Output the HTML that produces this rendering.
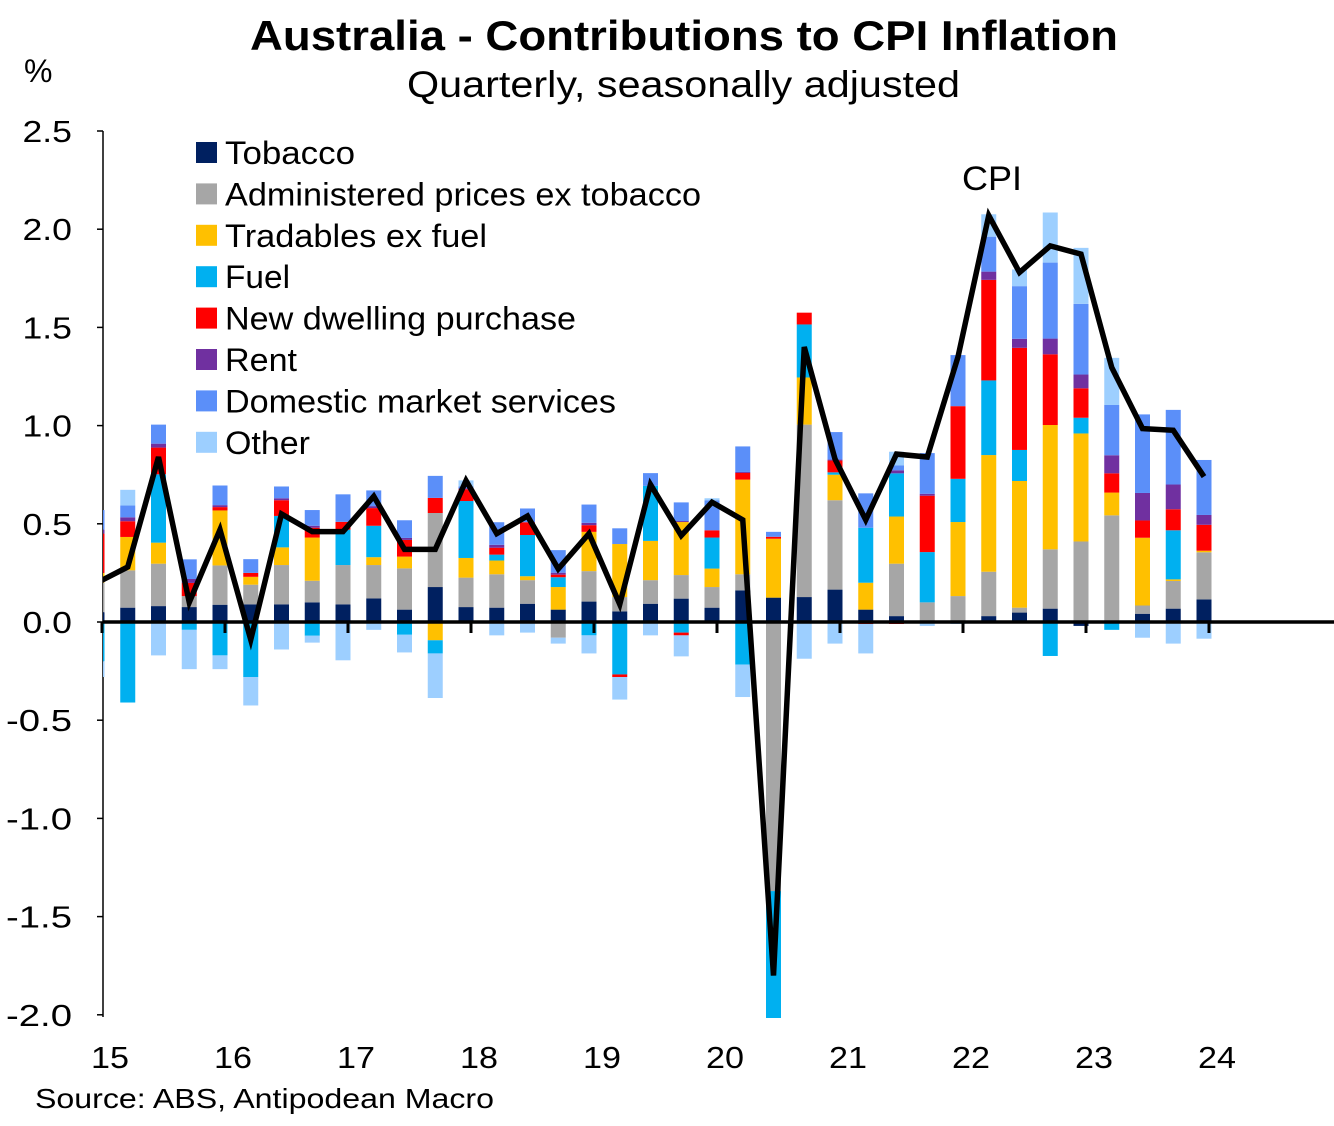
<!DOCTYPE html>
<html><head><meta charset="utf-8"><style>
body{margin:0;background:#fff;font-family:"Liberation Sans",Arial,sans-serif}
svg text{font-family:"Liberation Sans",Arial,sans-serif}
</style></head><body>
<svg id="chart" width="1334" height="1121" viewBox="0 0 1334 1121" xmlns="http://www.w3.org/2000/svg">
<text x="250" y="50" font-size="42" font-weight="bold" textLength="868" lengthAdjust="spacingAndGlyphs">Australia  - Contributions to CPI Inflation</text>
<text x="407" y="97" font-size="37" textLength="553" lengthAdjust="spacingAndGlyphs">Quarterly, seasonally adjusted</text>
<text x="24" y="82" font-size="32">%</text>
<defs><clipPath id="plotclip"><rect x="103" y="100" width="1231" height="918"/></clipPath></defs>
<g id="yaxis"></g>
<g id="bars" clip-path="url(#plotclip)"></g>
<g id="xaxis"></g>
<g id="line" clip-path="url(#plotclip)"></g>
<text x="962" y="190" font-size="34" textLength="60" lengthAdjust="spacingAndGlyphs">CPI</text>
<g id="legend"></g>
<text x="35" y="1108" font-size="28" textLength="459" lengthAdjust="spacingAndGlyphs">Source: ABS, Antipodean Macro</text>
</svg>
<script>
const seriesNames=["Tobacco","Administered prices ex tobacco","Tradables ex fuel","Fuel","New dwelling purchase","Rent","Domestic market services","Other"];
const colors=["#002060","#A6A6A6","#FFC000","#00B0F0","#FF0000","#7030A0","#5B8FF9","#9DCFFF"];
const tobacco=[0.05,0.073,0.081,0.076,0.088,0.09,0.09,0.1,0.09,0.12,0.063,0.178,0.076,0.073,0.093,0.063,0.104,0.054,0.093,0.119,0.073,0.161,0.124,0.127,0.165,0.063,0.03,0,0,0.03,0.048,0.068,-0.02,0,0.042,0.068,0.115];
const administered=[0.15,0.19,0.216,0.056,0.2,0.1,0.2,0.11,0.2,0.17,0.21,0.377,0.15,0.17,0.12,-0.08,0.155,0.073,0.12,0.12,0.105,0.082,-1.37,0.878,0.455,0,0.267,0.1,0.132,0.226,0.025,0.302,0.41,0.543,0.042,0.141,0.24];
const tradables=[0.05,0.17,0.107,0,0.28,0.04,0.09,0.22,0,0.04,0.06,-0.093,0.1,0.07,0.02,0.115,0.2,0.27,0.2,0.27,0.094,0.482,0.3,0.24,0.13,0.137,0.24,0,0.377,0.594,0.645,0.633,0.55,0.116,0.345,0.008,0.008];
const fuel=[-0.2,-0.41,0.348,-0.04,-0.17,-0.28,0.16,-0.07,0.18,0.16,-0.065,-0.067,0.29,0.03,0.21,0.05,-0.068,-0.267,0.28,-0.054,0.158,-0.217,-0.65,0.27,0.012,0.28,0.22,0.256,0.22,0.38,0.158,-0.173,0.08,-0.04,0,0.25,0];
const dwelling=[0.2,0.08,0.136,0.067,0.017,0.02,0.08,0.05,0.04,0.09,0.085,0.077,0.06,0.035,0.065,0.013,0.034,-0.013,0,-0.014,0.037,0.034,0.01,0.06,0.06,-0.01,-0.01,0.287,0.37,0.512,0.52,0.36,0.15,0.098,0.088,0.107,0.132];
const rent=[0.02,0.02,0.02,0.02,0.01,0,0.01,0.01,0,0.01,0.01,0,0.005,0.015,0,0.01,0.012,0,0,0.005,0,0.005,0,0,0.005,0,0.015,0.01,0,0.042,0.046,0.08,0.07,0.092,0.14,0.126,0.05];
const services=[0.1,0.06,0.097,0.1,0.1,0.07,0.06,0.08,0.14,0.08,0.09,0.112,0.01,0.115,0.07,0.115,0.093,0.08,0.065,0.095,0.153,0.13,0.025,0,0.14,0.175,0.025,0.207,0.26,0.178,0.268,0.387,0.36,0.256,0.4,0.38,0.28];
const other=[-0.08,0.08,-0.17,-0.2,-0.07,-0.145,-0.14,-0.035,-0.195,-0.04,-0.09,-0.227,0.03,-0.068,-0.054,-0.03,-0.092,-0.115,-0.068,-0.107,0.01,-0.165,0,-0.187,-0.11,-0.15,0.07,-0.02,-0.01,0.114,0.085,0.255,0.285,0.24,-0.08,-0.11,-0.085];
const cpi=[0.2,0.28,0.84,0.1,0.47,-0.09,0.55,0.46,0.46,0.64,0.37,0.37,0.72,0.45,0.54,0.27,0.45,0.09,0.70,0.44,0.61,0.52,-1.80,1.40,0.83,0.52,0.855,0.84,1.35,2.07,1.78,1.915,1.873,1.296,0.985,0.976,0.74];
const yTicks=["2.5","2.0","1.5","1.0","0.5","0.0","-0.5","-1.0","-1.5","-2.0"];
const xLabels=["15","16","17","18","19","20","21","22","23","24"];
const legendWidths=[130,476,262,65,351,72,391,85];

const NS="http://www.w3.org/2000/svg";
const y=v=>622-v*196.4;
const x=i=>97+30.75*i;
const mk=(tag,attrs,parent)=>{const e=document.createElementNS(NS,tag);for(const k in attrs)e.setAttribute(k,attrs[k]);parent.appendChild(e);return e;};
const series=[tobacco,administered,tradables,fuel,dwelling,rent,services,other];
const yg=document.getElementById('yaxis');
let ax=mk('line',{x1:103,y1:131,x2:103,y2:1017,stroke:'#000','stroke-width':1.5},yg);


yTicks.forEach(t=>{const v=parseFloat(t);
 const tk=mk('line',{x1:97,y1:y(v),x2:103,y2:y(v),stroke:'#000','stroke-width':1.5},yg);
 
 
 const tx=mk('text',{x:72,y:y(v)+11,'text-anchor':'end','font-size':31,textLength:t.length*16.5,lengthAdjust:'spacingAndGlyphs'},yg);tx.textContent=t;
 
 
});
const bg=document.getElementById('bars');
cpi.forEach((c,i)=>{let pos=0,neg=0;
 series.forEach((s,k)=>{const v=s[i];if(!v)return;let y0,y1;
  if(v>0){y0=pos;y1=pos+v;pos=y1;}else{y0=neg;y1=neg+v;neg=y1;}
  const r=mk('rect',{x:x(i)-7.5,y:Math.min(y(y0),y(y1)),width:15,height:Math.abs(y(y1)-y(y0)),fill:colors[k]},bg);
  
  
 });
});
const xg=document.getElementById('xaxis');
const zl=mk('line',{x1:103,y1:622,x2:1334,y2:622,stroke:'#000','stroke-width':3.5},xg);


xLabels.forEach((l,j)=>{const px=102+123*j;
 const tk=mk('line',{x1:px,y1:622,x2:px,y2:633,stroke:'#000','stroke-width':3},xg);
 
 
 const tx=mk('text',{x:px+8,y:1068,'text-anchor':'middle','font-size':31,textLength:38,lengthAdjust:'spacingAndGlyphs'},xg);tx.textContent=l;
 
 
});
const lg=document.getElementById('line');
const pl=mk('polyline',{points:cpi.map((v,i)=>x(i)+','+y(v)).join(' '),fill:'none',stroke:'#000','stroke-width':5.5,'stroke-linejoin':'miter'},lg);


const leg=document.getElementById('legend');
seriesNames.forEach((n,k)=>{const yy=152+41.4*k;
 const g=mk('g',{},leg);
 
 
 mk('rect',{x:196,y:yy-10,width:21,height:21,fill:colors[k]},g);
 const t=mk('text',{x:225,y:yy+12,'font-size':32,textLength:legendWidths[k],lengthAdjust:'spacingAndGlyphs'},g);t.textContent=n;
});
</script>
</body></html>
